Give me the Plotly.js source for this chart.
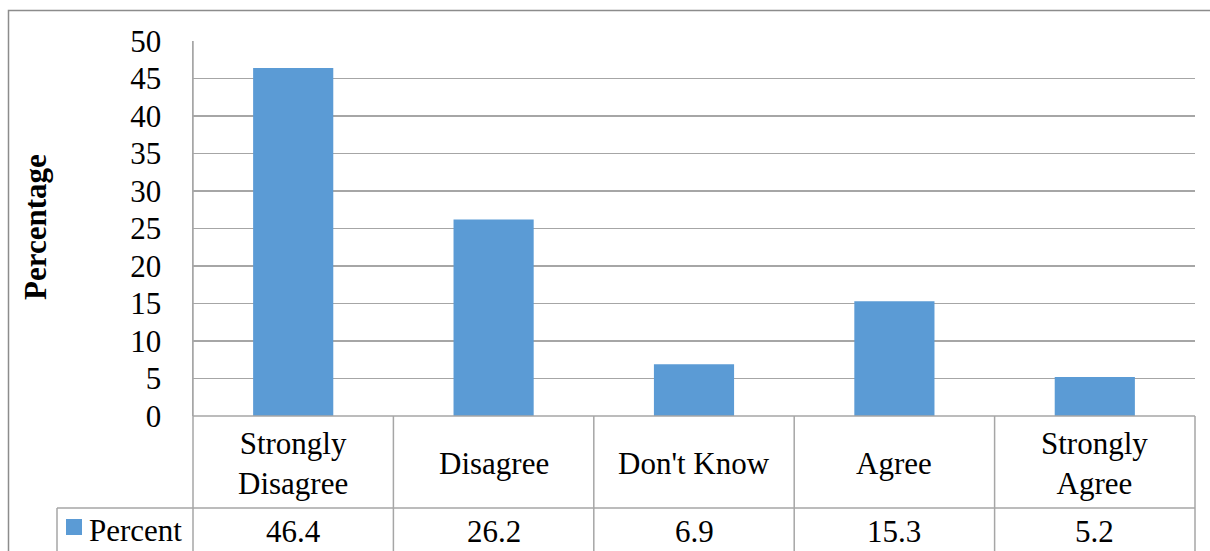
<!DOCTYPE html>
<html>
<head>
<meta charset="utf-8">
<script src="https://cdn.plot.ly/plotly-3.0.1.min.js"></script>
</head>
<body style="margin:0">
<div id="chart" style="width:1210px;height:551px"></div>
<script>
const categories = ["Strongly Disagree", "Disagree", "Don't Know", "Agree", "Strongly Agree"];
const categoryLabels = ["Strongly<br>Disagree", "Disagree", "Don't Know", "Agree", "Strongly<br>Agree"];
const seriesName = "Percent";
const percentValues = [46.4, 26.2, 6.9, 15.3, 5.2];
const yTickValues = [0, 5, 10, 15, 20, 25, 30, 35, 40, 45, 50];

const W = 1210, H = 551;
const L = 193, R = 1195, T = 41, B = 416;
const px = x => (x - L) / (R - L);
const py = y => (B - y) / (B - T);
const FONT = "Liberation Serif";
const FS = 31;
const GRID = "#a6a6a6";
const BORDER = "#8c8c8c";
const BAR = "#5b9bd5";
const n = categories.length;
const rowY = 508;

const shapes = [];
shapes.push({type:"rect", xref:"paper", yref:"paper", x0:px(8.5), x1:px(1230), y0:py(10.5), y1:py(600), line:{color:BORDER, width:1.5}, fillcolor:"rgba(0,0,0,0)", layer:"below"});
shapes.push({type:"line", xref:"paper", yref:"paper", x0:0, x1:1, y0:0, y1:0, line:{color:GRID, width:1.5}});
shapes.push({type:"line", xref:"paper", yref:"paper", x0:px(57), x1:1, y0:py(rowY), y1:py(rowY), line:{color:GRID, width:1.5}});
shapes.push({type:"line", xref:"paper", yref:"paper", x0:0, x1:0, y0:1, y1:py(600), line:{color:GRID, width:1.5}});
shapes.push({type:"line", xref:"paper", yref:"paper", x0:px(57), x1:px(57), y0:py(rowY), y1:py(600), line:{color:GRID, width:1.5}});
for (let i = 1; i <= n; i++) {
  shapes.push({type:"line", xref:"paper", yref:"paper", x0:i/n, x1:i/n, y0:0, y1:py(600), line:{color:GRID, width:1.5}});
}
shapes.push({type:"rect", xref:"paper", yref:"paper", x0:px(66), x1:px(82), y0:py(519), y1:py(535), line:{width:0}, fillcolor:BAR});

const annotations = [];
categories.forEach((c, i) => {
  annotations.push({xref:"x", yref:"paper", x:c, y:py(463), text:categoryLabels[i], showarrow:false, xanchor:"center", yanchor:"middle", font:{family:FONT, size:FS, color:"#000"}});
  annotations.push({xref:"x", yref:"paper", x:c, y:py(531), text:String(percentValues[i]), showarrow:false, xanchor:"center", yanchor:"middle", font:{family:FONT, size:FS, color:"#000"}});
});
annotations.push({xref:"paper", yref:"paper", x:px(87), y:py(530), text:seriesName, showarrow:false, xanchor:"left", yanchor:"middle", font:{family:FONT, size:FS, color:"#000"}});
annotations.push({xref:"paper", yref:"paper", x:px(35), y:py(227), text:"<b>Percentage</b>", textangle:-90, showarrow:false, xanchor:"center", yanchor:"middle", font:{family:FONT, size:31, color:"#000"}});

const data = [{
  type:"bar", x:categories, y:percentValues, name:seriesName,
  marker:{color:BAR, line:{width:0}}, width:0.4
}];

const layout = {
  width:W, height:H,
  font:{family:FONT, size:FS, color:"#000"},
  margin:{l:L, r:W-R, t:T, b:H-B, pad:0},
  paper_bgcolor:"#fff", plot_bgcolor:"#fff",
  showlegend:false,
  xaxis:{type:"category", range:[-0.5, n-0.5], showticklabels:false, showgrid:false, zeroline:false, showline:false, ticks:""},
  yaxis:{range:[0,50], tickvals:yTickValues, showgrid:true, gridcolor:GRID, gridwidth:1.5, zeroline:false,
         showline:true, linecolor:GRID, linewidth:1.5, ticks:"", ticklabelstandoff:24,
         tickfont:{family:FONT, size:FS, color:"#000"}},
  shapes:shapes, annotations:annotations
};
Plotly.newPlot("chart", data, layout, {staticPlot:true});
</script>
</body>
</html>
